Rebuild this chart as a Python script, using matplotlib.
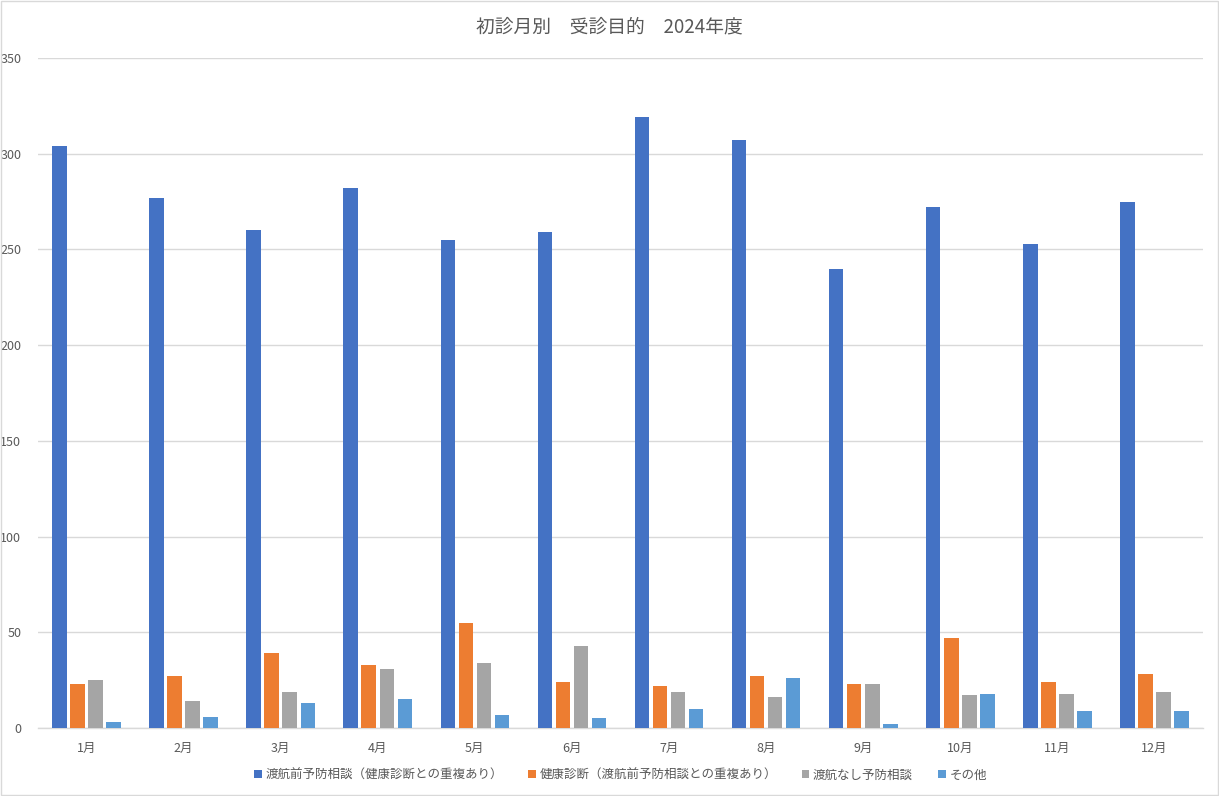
import matplotlib.pyplot as plt
import numpy as np
from matplotlib.patches import Rectangle

plt.rcParams['font.family'] = ['Noto Sans CJK JP', 'DejaVu Sans']

# データ
months = ['1月', '2月', '3月', '4月', '5月', '6月', '7月', '8月', '9月', '10月', '11月', '12月']
series_names = ['渡航前予防相談（健康診断との重複あり）', '健康診断（渡航前予防相談との重複あり）',
                '渡航なし予防相談', 'その他']
pre_travel = [304, 277, 260, 282, 255, 259, 319, 307, 240, 272, 253, 275]
health_check = [23, 27, 39, 33, 55, 24, 22, 27, 23, 47, 24, 28]
no_travel = [25, 14, 19, 31, 34, 43, 19, 16, 23, 17, 18, 19]
other = [3, 6, 13, 15, 7, 5, 10, 26, 2, 18, 9, 9]

colors = ['#4472C4', '#ED7D31', '#A5A5A5', '#5B9BD5']
text_color = '#595959'
grid_color = '#D9D9D9'

fig = plt.figure(figsize=(12.19, 7.96), dpi=100)
ax = fig.add_axes([38 / 1219, 1 - 728 / 796, 1165 / 1219, 670 / 796])

x = np.arange(1, len(months) + 1)
step = 0.186
width = 0.15
all_series = [pre_travel, health_check, no_travel, other]
for i, (vals, c, name) in enumerate(zip(all_series, colors, series_names)):
    ax.bar(x + (i - 1.5) * step, vals, width=width, color=c, label=name, zorder=3)

ax.set_xlim(0.5, 12.5)
ax.set_ylim(0, 350)
ax.set_yticks(range(0, 351, 50))
ax.set_xticks(x)
ax.set_xticklabels(months)
ax.tick_params(axis='both', length=0, labelsize=9, colors=text_color)
ax.tick_params(axis='x', pad=10)
ax.tick_params(axis='y', pad=12)
ax.grid(axis='y', color=grid_color, linewidth=1, zorder=0)
for s in ['top', 'left', 'right']:
    ax.spines[s].set_visible(False)
ax.spines['bottom'].set_color(grid_color)
ax.spines['bottom'].set_linewidth(1)

fig.text(0.5, 1 - 27 / 796, '初診月別　受診目的　2024年度', ha='center', va='center',
         fontsize=13.5, color=text_color)

leg = ax.legend(loc='center', bbox_to_anchor=(0.5, (728 - 775) / 670), ncol=4, frameon=False,
                fontsize=9, handlelength=0.6, handleheight=0.6, handletextpad=0.3,
                columnspacing=2.0, labelcolor=text_color)

# グラフの枠線
fig.patches.append(Rectangle((0.001, 0.001), 0.998, 0.998, transform=fig.transFigure,
                             fill=False, edgecolor=grid_color, linewidth=1))

fig.savefig('out.png', dpi=100)
